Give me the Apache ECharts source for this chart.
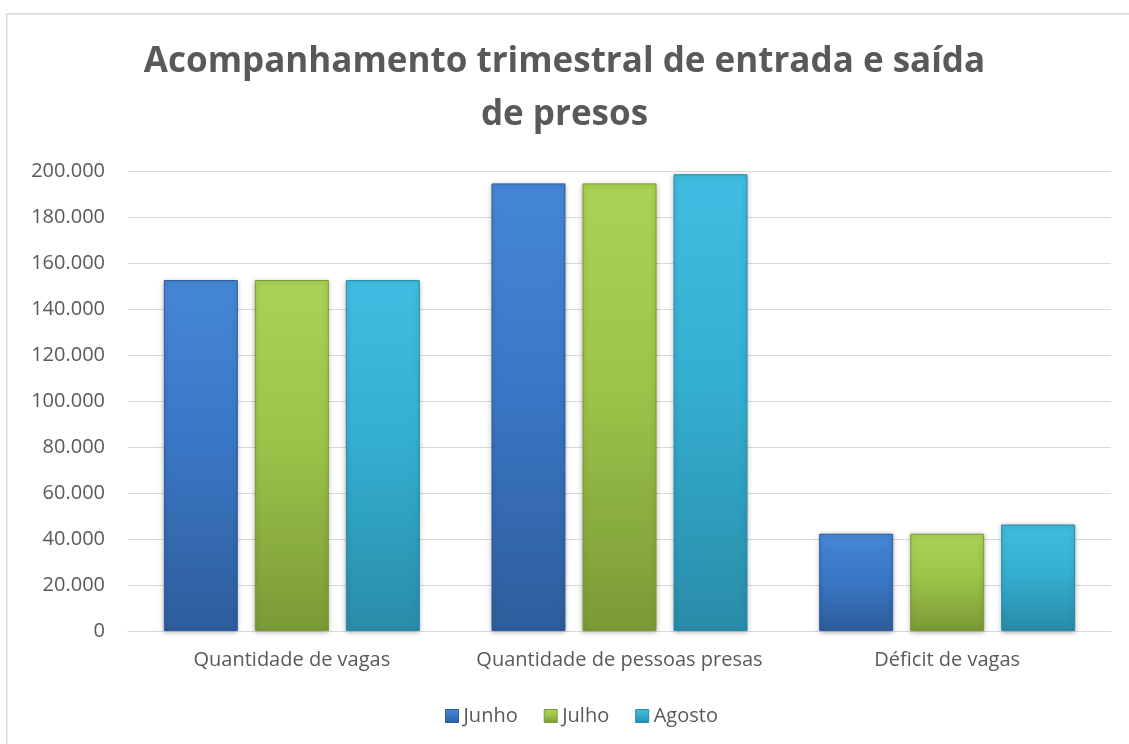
<!DOCTYPE html>
<html>
<head>
<meta charset="utf-8">
<script src="https://cdn.jsdelivr.net/npm/echarts@6/dist/echarts.min.js"></script>
<style>
html,body{margin:0;padding:0;background:#fff;}
#chart{width:1129px;height:744px;}
</style>
</head>
<body>
<div id="chart"></div>
<script>
const titleText = 'Acompanhamento trimestral de entrada e saída\nde presos';
const categories = ['Quantidade de vagas', 'Quantidade de pessoas presas', 'Déficit de vagas'];
const seriesNames = ['Junho', 'Julho', 'Agosto'];
const junho = [152600, 194600, 42300];
const julho = [152600, 194600, 42300];
const agosto = [152600, 198600, 46300];
const yTicks = {min: 0, max: 200000, interval: 20000};

const palettes = [
  ['#4587d6', '#3a78c6', '#2e5d9c'],
  ['#aad254', '#9dc449', '#7a9a36'],
  ['#40bde0', '#34afd2', '#298ca8']
];
function grad(p) {
  return new echarts.graphic.LinearGradient(0, 0, 0, 1, [
    {offset: 0, color: p[0]},
    {offset: 0.45, color: p[1]},
    {offset: 1, color: p[2]}
  ]);
}
const values = [junho, julho, agosto];
const FONT = 'Open Sans';
const chart = echarts.init(document.getElementById('chart'));
chart.setOption({
  backgroundColor: '#ffffff',
  animation: false,
  graphic: [{
    type: 'rect', left: 6, top: 13, z: -1,
    shape: {width: 1200, height: 800},
    style: {fill: 'transparent', stroke: '#d9d9d9', lineWidth: 1.5}
  }],
  title: {
    text: titleText,
    left: 'center', top: 31,
    textStyle: {fontFamily: FONT, fontWeight: 'bold', fontSize: 35, color: '#595959', lineHeight: 53}
  },
  legend: {
    bottom: 13, left: 440,
    itemWidth: 13, itemHeight: 13, itemGap: 26,
    icon: 'rect',
    textStyle: {fontFamily: FONT, fontSize: 20, color: '#595959'},
    data: seriesNames.map((n, i) => ({name: n, itemStyle: {color: grad(palettes[i]), borderColor: palettes[i][2], borderWidth: 1}}))
  },
  grid: {left: 128, right: 18, top: 171, bottom: 113, containLabel: false},
  xAxis: {
    type: 'category', data: categories,
    axisLine: {lineStyle: {color: '#d9d9d9', width: 1}},
    axisTick: {show: false},
    axisLabel: {fontFamily: FONT, fontSize: 20, color: '#595959', margin: 19, interval: 0}
  },
  yAxis: {
    type: 'value', min: yTicks.min, max: yTicks.max, interval: yTicks.interval,
    axisLine: {show: false}, axisTick: {show: false},
    splitLine: {lineStyle: {color: '#d9d9d9', width: 1}},
    axisLabel: {
      fontFamily: FONT, fontSize: 20, color: '#595959', margin: 23,
      formatter: v => v.toString().replace(/\B(?=(\d{3})+(?!\d))/g, '.')
    }
  },
  series: seriesNames.map((n, i) => ({
    name: n, type: 'bar', data: values[i],
    barWidth: 74, barGap: '23%',
    itemStyle: {
      color: grad(palettes[i]),
      borderColor: palettes[i][2], borderWidth: 1,
      shadowBlur: 5, shadowColor: 'rgba(0,0,0,0.3)', shadowOffsetX: 0, shadowOffsetY: 1
    }
  }))
});
</script>
</body>
</html>
